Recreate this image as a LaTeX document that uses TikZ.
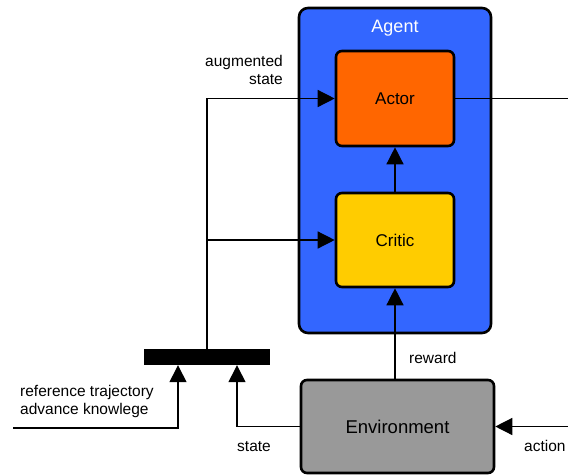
\documentclass[tikz,border=0pt]{standalone}
\usepackage{fontspec}
\setmainfont{Liberation Sans}
\usetikzlibrary{arrows.meta,positioning}

\definecolor{agentblue}{HTML}{3366FF}
\definecolor{actororange}{HTML}{FF6600}
\definecolor{criticyellow}{HTML}{FFCC00}
\definecolor{envgray}{HTML}{999999}

\begin{document}
\begin{tikzpicture}
[x=1pt,y=-1pt,>={Triangle[length=17pt,width=17pt]},
 block/.style={draw,line width=2.6pt,rounded corners=6pt,inner sep=0pt,
   font=\fontsize{17}{20}\selectfont},
 wire/.style={line width=1.4pt},
 lbl/.style={font=\fontsize{15.5}{18.5}\selectfont,inner sep=0pt}]

% the frame
\useasboundingbox (0,0) rectangle (568,475);

% the agent and its parts
\node[block,fill=agentblue,minimum width=192pt,minimum height=325pt,rounded corners=9pt] (agent) at (395,170.5) {};
\node[lbl,white,font=\fontsize{18}{21}\selectfont] (agenttitle) at (395,28) {Agent};
\node[block,fill=actororange,minimum width=118pt,minimum height=95pt] (actor) at (395,98.5) {Actor};
\node[block,fill=criticyellow,minimum width=118pt,minimum height=94pt] (critic) at (395,240) {Critic};

% the environment
\node[block,fill=envgray,minimum width=193pt,minimum height=93pt,font=\fontsize{18.5}{21}\selectfont] (env) at (397.5,426.5) {Environment};

% the mux bar
\node[fill=black,minimum width=126pt,minimum height=16pt,inner sep=0pt] (bar) at (207,357) {};

% free ends
\coordinate (refin) at (13,428);
\coordinate (actout) at (568,98.5);
\coordinate (actin) at (568,426.5);

% the connectors
\draw[wire,->] (critic) -- (actor);
\draw[wire,->] (env.north -| critic) -- (critic.south);
\draw[wire] (actor.east) -- (actout);
\draw[wire,->] (actin) -- (env.east);
\draw[wire,->] (env.west) -| ([xshift=30pt]bar.south);
\draw[wire,->] (refin) -| ([xshift=-29pt]bar.south);
\draw[wire,->] (bar.north) |- (actor.west);
\draw[wire,->] (bar.north |- critic.west) -- (critic.west);

% the labels
\node[lbl,align=right,anchor=north east] (auglbl) at (283,55) {augmented\\state};
\node[lbl,anchor=west] (rewardlbl) at (409,358) {reward};
\node[lbl,anchor=west] (actionlbl) at (524,446) {action};
\node[lbl,anchor=west] (statelbl) at (237,447) {state};
\node[lbl,align=left,anchor=north west] (reflbl) at (20,385) {reference trajectory\\advance knowlege};
\end{tikzpicture}
\end{document}
